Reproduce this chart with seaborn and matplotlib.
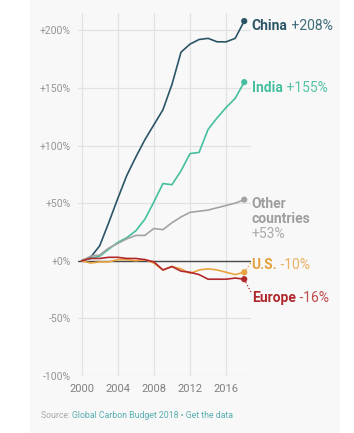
import numpy as np
import pandas as pd
import matplotlib
matplotlib.use("Agg")
import matplotlib.pyplot as plt
import seaborn as sns
from matplotlib.patches import Rectangle

# ---- data ----
years = list(range(2000, 2019))
china = [0, 3, 13, 33, 54, 74, 90, 105, 118, 131, 153, 181, 188, 192, 193, 190, 190, 193, 208]
india = [0, 2, 4, 10, 16, 20, 26, 36, 51, 67, 66, 78, 93, 94, 114, 124, 133, 141, 155]
other = [0, 4, 5, 11, 15, 19, 22, 22, 28, 27, 33, 38, 42, 43, 44, 46, 48, 50, 53]
us = [0, -2, -1, -1, 1, 1, 0, 1, -2, -8, -5, -7, -11, -8, -7, -8, -10, -12, -10]
europe = [0, 2, 2, 3, 3, 2, 2, 1, -1, -8, -5, -9, -10, -12, -16, -16, -16, -15, -16]
regions = ["China", "India", "Other countries", "U.S.", "Europe"]
ytick_vals = [-100, -50, 0, 50, 100, 150, 200]
ytick_labels = ["-100%", "-50%", "+0%", "+50%", "+100%", "+150%", "+200%"]
xtick_vals = [2000, 2004, 2008, 2012, 2016]

colors = {"China": "#2b5566", "India": "#45bf9f", "Other countries": "#a3a3a3",
          "U.S.": "#e9a441", "Europe": "#b2282c"}

df = pd.DataFrame({
    "year": years * 5,
    "value": china + india + other + us + europe,
    "region": sum([[r] * len(years) for r in regions], []),
})

sns.set_theme(style="whitegrid")
plt.rcParams["font.family"] = ["Roboto", "DejaVu Sans"]

fig = plt.figure(figsize=(3.54, 4.33), dpi=100, facecolor="white")
# card background
fig.patches.append(Rectangle((30 / 354, 0), 310 / 354, 1, transform=fig.transFigure,
                             facecolor="#f8f8f8", edgecolor="none", zorder=-10))
ax = fig.add_axes([78 / 354, 1 - 376 / 433, 173 / 354, 363 / 433])
ax.set_facecolor("none")

sns.lineplot(data=df, x="year", y="value", hue="region", palette=colors,
             hue_order=regions, linewidth=1.2, legend=False, ax=ax, zorder=3)
last = df[df["year"] == years[-1]]
sns.scatterplot(data=last, x="year", y="value", hue="region", palette=colors,
                hue_order=regions, s=20, edgecolor="none", legend=False, ax=ax, zorder=4)

ax.axhline(0, color="#4a4a4a", lw=1.0, zorder=2)
ax.set_xlim(1999.6, 2018.75)
ax.set_ylim(-100, 215)
ax.set_xticks(xtick_vals)
ax.set_xticklabels([str(x) for x in xtick_vals])
ax.set_yticks(ytick_vals)
ax.set_yticklabels(ytick_labels)
ax.tick_params(axis="y", labelsize=7.5, labelcolor="#959595", pad=5, length=0)
ax.tick_params(axis="x", labelsize=8, labelcolor="#808080", pad=6, length=0)
ax.grid(True, color="#e2e2e2", lw=0.9)
ax.set_xlabel("")
ax.set_ylabel("")
for s in ax.spines.values():
    s.set_visible(False)

lx = 2018.83
def label(name, val, y, color, valcolor):
    t = ax.text(lx, y, name, color=color, fontsize=10, fontweight="bold",
                va="center", ha="left", clip_on=False)
    ax.annotate(val, xy=(1, 0), xycoords=t, xytext=(0, 0), textcoords="offset points",
                color=valcolor, fontsize=10, va="bottom", ha="left")

label("China", " +208%", 203.5, colors["China"], "#3e6b78")
label("India", " +155%", 150, colors["India"], "#55c4a8")
label("U.S.", " -10%", -3.5, "#e3a03c", "#eab060")
label("Europe", " -16%", -32, "#b0282c", "#c04a4a")
ax.text(lx, 49.5, "Other", color="#9e9e9e", fontsize=10, fontweight="bold",
        va="center", ha="left", clip_on=False)
ax.text(lx, 36.5, "countries", color="#9e9e9e", fontsize=10, fontweight="bold",
        va="center", ha="left", clip_on=False)
ax.text(lx, 23.4, "+53%", color="#ababab", fontsize=10,
        va="center", ha="left", clip_on=False)

# dotted leader lines
ax.plot([2018, 2018.8], [-10, -1], ls=":", color=colors["U.S."], lw=0.9, clip_on=False)
ax.plot([2018, 2018.8], [-16, -28], ls=":", color=colors["Europe"], lw=0.9, clip_on=False)

t = fig.text(41 / 354, 1 - 416 / 433, "Source: ", color="#a8a8a8", fontsize=6.3, va="center")
ax.annotate("Global Carbon Budget 2018 \u2022 Get the data", xy=(1, 0), xycoords=t,
            color="#5aaeb0", fontsize=6.3, va="bottom", ha="left", annotation_clip=False)

fig.savefig("out.png", dpi=100, facecolor="white")
